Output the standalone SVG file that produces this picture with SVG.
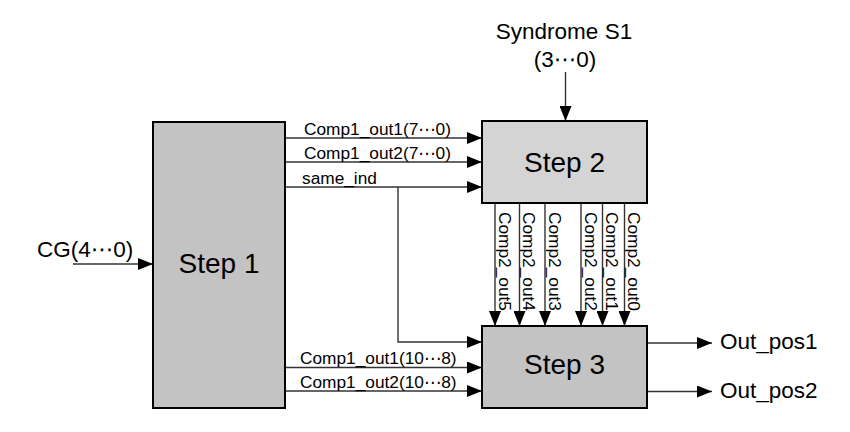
<svg xmlns="http://www.w3.org/2000/svg" width="850" height="432" viewBox="0 0 850 432">
<style>
text{font-family:"Liberation Sans",Arial,"DejaVu Sans",sans-serif;fill:#000}
.big{font-size:28px;text-anchor:middle}
.mid{font-size:22.5px}
.sm{font-size:17.3px}
.box{stroke:#000;stroke-width:2}
.wire{fill:none;stroke:#333;stroke-width:1.4}
</style>
<defs>
<marker id="ah" markerUnits="userSpaceOnUse" markerWidth="15" markerHeight="12" refX="15" refY="6" orient="auto">
<path d="M0,0 L15,6 L0,12 z" fill="#000"/>
</marker>
</defs>
<rect width="850" height="432" fill="#fff"/>
<g id="connectors">
<path class="wire" d="M73,264 H153" marker-end="url(#ah)"/>
<path class="wire" d="M565.5,72 V121" marker-end="url(#ah)"/>
<path class="wire" d="M285,138 H482" marker-end="url(#ah)"/>
<path class="wire" d="M285,162 H482" marker-end="url(#ah)"/>
<path class="wire" d="M285,187 H482" marker-end="url(#ah)"/>
<path class="wire" d="M398,187 V342 H482" marker-end="url(#ah)"/>
<path class="wire" d="M285,367.5 H482" marker-end="url(#ah)"/>
<path class="wire" d="M285,391 H482" marker-end="url(#ah)"/>
<path class="wire" d="M495,203 V326" marker-end="url(#ah)"/>
<path class="wire" d="M519.5,203 V326" marker-end="url(#ah)"/>
<path class="wire" d="M545,203 V326" marker-end="url(#ah)"/>
<path class="wire" d="M581,203 V326" marker-end="url(#ah)"/>
<path class="wire" d="M602.5,203 V326" marker-end="url(#ah)"/>
<path class="wire" d="M624.5,203 V326" marker-end="url(#ah)"/>
<path class="wire" d="M647,343 H712" marker-end="url(#ah)"/>
<path class="wire" d="M647,391.5 H712" marker-end="url(#ah)"/>
<text class="mid" x="37" y="257">CG(4⋯0)</text>
<text class="mid" x="564" y="39" text-anchor="middle">Syndrome S1</text>
<text class="mid" x="565" y="67" text-anchor="middle">(3⋯0)</text>
<text class="sm" x="304" y="134.5">Comp1_out1(7⋯0)</text>
<text class="sm" x="304" y="158.5">Comp1_out2(7⋯0)</text>
<text class="sm" x="302" y="183.5">same_ind</text>
<text class="sm" x="300" y="364">Comp1_out1(10⋯8)</text>
<text class="sm" x="300" y="387.5">Comp1_out2(10⋯8)</text>
<text class="sm" transform="translate(498.5,212) rotate(90)">Comp2_out5</text>
<text class="sm" transform="translate(523,212) rotate(90)">Comp2_out4</text>
<text class="sm" transform="translate(548.5,212) rotate(90)">Comp2_out3</text>
<text class="sm" transform="translate(584.5,212) rotate(90)">Comp2_out2</text>
<text class="sm" transform="translate(606,212) rotate(90)">Comp2_out1</text>
<text class="sm" transform="translate(628,212) rotate(90)">Comp2_out0</text>
<text class="mid" x="720" y="349">Out_pos1</text>
<text class="mid" x="720" y="397.5">Out_pos2</text>
</g>
<g id="step1">
<rect class="box" x="153" y="122" width="132" height="286" fill="#c3c3c3"/>
<text class="big" x="219" y="273">Step 1</text>
</g>
<g id="step2">
<rect class="box" x="482" y="121" width="165" height="82" fill="#d4d4d4"/>
<text class="big" x="564.5" y="172">Step 2</text>
</g>
<g id="step3">
<rect class="box" x="482" y="326" width="165" height="82" fill="#c3c3c3"/>
<text class="big" x="564.5" y="374">Step 3</text>
</g>
</svg>
